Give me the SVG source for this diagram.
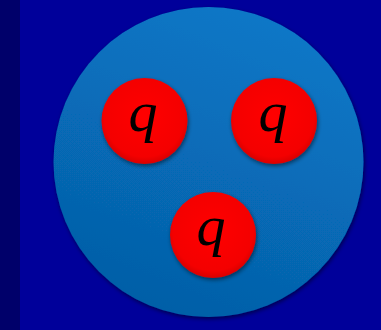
<svg xmlns="http://www.w3.org/2000/svg" width="381" height="330" viewBox="0 0 381 330">
<defs>
<linearGradient id="big" x1="0.7" y1="0" x2="0.3" y2="1">
<stop offset="0" stop-color="#0978c8"/>
<stop offset="1" stop-color="#055ea6"/>
</linearGradient>
<radialGradient id="red" cx="0.5" cy="0.45" r="0.55">
<stop offset="0" stop-color="#ff0000"/>
<stop offset="0.85" stop-color="#f40000"/>
<stop offset="1" stop-color="#d80000"/>
</radialGradient>
<filter id="sh" x="-20%" y="-20%" width="140%" height="140%">
<feGaussianBlur in="SourceAlpha" stdDeviation="2"/>
<feOffset dx="1" dy="2"/>
<feComponentTransfer><feFuncA type="linear" slope="0.5"/></feComponentTransfer>
<feMerge><feMergeNode/><feMergeNode in="SourceGraphic"/></feMerge>
</filter>
</defs>
<style>
.q{font-family:"Liberation Serif","DejaVu Serif",serif;font-style:italic;font-size:58px;fill:#000;text-anchor:middle}
.quark{fill:url(#red);filter:url(#sh)}
</style>
<rect width="381" height="330" fill="#00009a"/>
<rect width="20" height="330" fill="#00006a"/>
<g id="proton">
<circle cx="208.5" cy="162" r="155" fill="url(#big)" filter="url(#sh)"/>
</g>
<g id="quark1">
<circle class="quark" cx="144.5" cy="121" r="43"/>
<text class="q" x="143" y="131">q</text>
</g>
<g id="quark2">
<circle class="quark" cx="274" cy="121" r="43"/>
<text class="q" x="273" y="131">q</text>
</g>
<g id="quark3">
<circle class="quark" cx="213" cy="235" r="43"/>
<text class="q" x="211" y="245">q</text>
</g>
<g id="connectors"/>
</svg>
